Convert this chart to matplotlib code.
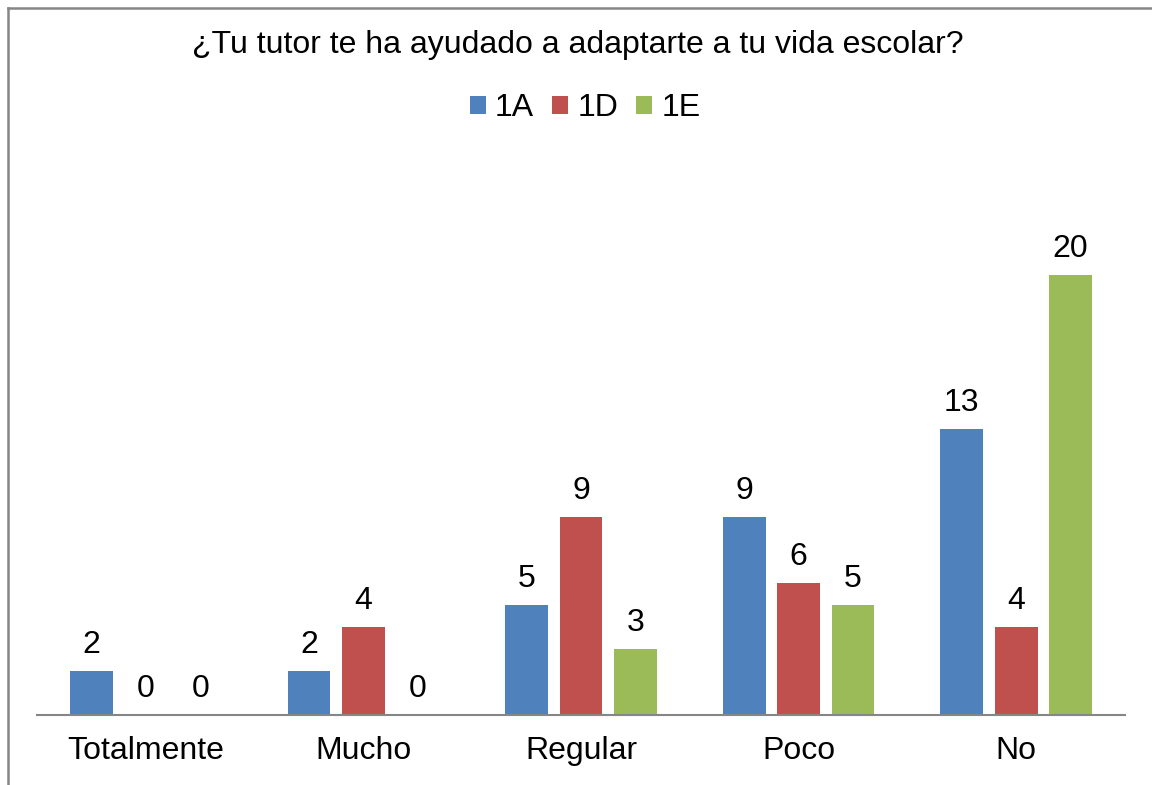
import matplotlib.pyplot as plt
from matplotlib.lines import Line2D
import numpy as np

plt.rcParams['font.family'] = ['Liberation Sans', 'DejaVu Sans']

categories = ['Totalmente', 'Mucho', 'Regular', 'Poco', 'No']
series = ['1A', '1D', '1E']
vals_1a = [2, 2, 5, 9, 13]
vals_1d = [0, 4, 9, 6, 4]
vals_1e = [0, 0, 3, 5, 20]
colors = ['#4F81BD', '#C0504D', '#9BBB59']

W, H = 1152, 785
fig = plt.figure(figsize=(W / 100, H / 100), dpi=100)
ax = fig.add_axes([37 / W, 70 / H, (1125 - 37) / W, (715 - 165) / H])

x = np.arange(len(categories))
width = 0.197
step = 0.25
for i, (name, vals) in enumerate(zip(series, [vals_1a, vals_1d, vals_1e])):
    pos = x + (i - 1) * step
    ax.bar(pos, vals, width, color=colors[i], label=name, zorder=2)
    for p, v in zip(pos, vals):
        ax.text(p, v + 0.5, str(v), ha='center', va='bottom', fontsize=23)

ax.set_xlim(-0.5, len(categories) - 0.5)
ax.set_ylim(0, 25)
ax.set_yticks([])
ax.set_xticks(x)
ax.set_xticklabels(categories, fontsize=23)
ax.tick_params(axis='x', length=0, pad=15)
for s in ['top', 'right', 'left']:
    ax.spines[s].set_visible(False)
ax.spines['bottom'].set_color('#868686')
ax.spines['bottom'].set_linewidth(1.5)

fig.text(578 / W, 1 - 45 / H, '¿Tu tutor te ha ayudado a adaptarte a tu vida escolar?',
         ha='center', va='center', fontsize=23)
fig.legend(loc='center', bbox_to_anchor=(585 / W, 1 - 108 / H), ncol=3, frameon=False,
           fontsize=23, handlelength=0.5, handleheight=0.5, handletextpad=0.3,
           columnspacing=0.55)

# chart border (extends past the image on right and bottom)
fig.add_artist(Line2D([7.5 / W, 7.5 / W], [0, 1 - 7.5 / H], color='#868686', lw=1.8))
fig.add_artist(Line2D([7.5 / W, 1], [1 - 7.5 / H, 1 - 7.5 / H], color='#868686', lw=1.8))

fig.savefig('out.png', dpi=100)
